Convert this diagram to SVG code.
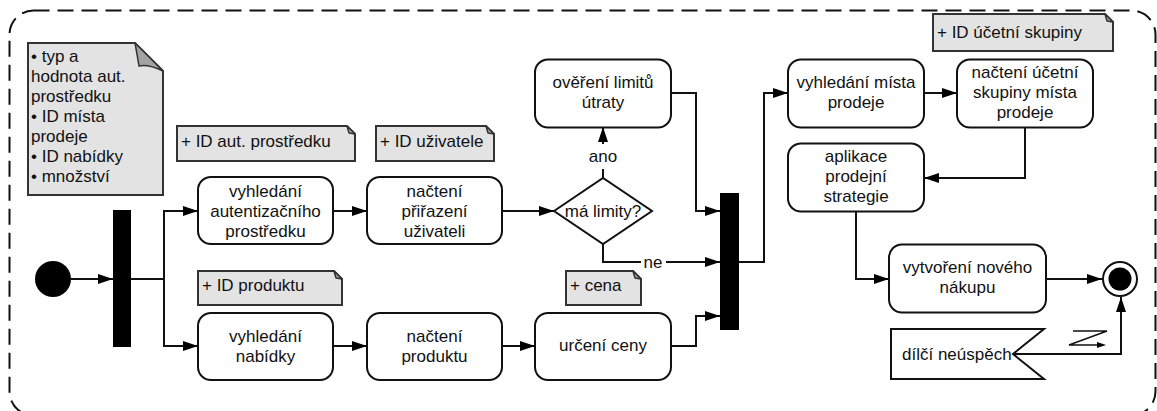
<svg xmlns="http://www.w3.org/2000/svg" width="1157" height="411" viewBox="0 0 1157 411">
  <style>
    text { font-family: "Liberation Sans", Arial, sans-serif; font-size: 17px; fill: #111; }
    .c { text-anchor: middle; }
    .act { fill: #fff; stroke: #111; stroke-width: 2; }
    .note { fill: #e3e3e3; stroke: #333; stroke-width: 2; }
    .fold { fill: #a3a3a3; stroke: #333; stroke-width: 1.5; stroke-linejoin: round; }
    .bar { fill: #000; }
    .wire { fill: none; stroke: #111; stroke-width: 2; }
    .arr { marker-end: url(#ah); }
  </style>
  <defs>
    <marker id="ah" markerUnits="userSpaceOnUse" markerWidth="15" markerHeight="10" refX="15" refY="5" orient="auto">
      <path d="M0,0 L15,5 L0,10 z" fill="#000"/>
    </marker>
  </defs>

  <rect width="1157" height="411" fill="#fff"/>

  <!-- activity frame -->
  <rect id="frame" x="9.5" y="10.5" width="1146" height="405" rx="24" fill="none" stroke="#111" stroke-width="2" stroke-dasharray="16 8"/>

  <!-- notes -->
  <g id="note-inputs">
    <path class="note" d="M28,43 H135 L163,71 V195 H28 Z"/>
    <path class="fold" d="M135,43 L163,71 Q148,64 139,66 Q137,54 135,43 Z"/>
    <text x="31" y="62">• typ a</text>
    <text x="31" y="82">hodnota aut.</text>
    <text x="31" y="102">prostředku</text>
    <text x="31" y="122">• ID místa</text>
    <text x="31" y="142">prodeje</text>
    <text x="31" y="162">• ID nabídky</text>
    <text x="31" y="182">• množství</text>
  </g>
  <g id="note-auth-id">
    <path class="note" d="M177,126 H347 L355,134 V161 H177 Z"/>
    <path class="fold" d="M347,126 L355,134 L349,133 Z"/>
    <text x="181" y="147">+ ID aut. prostředku</text>
  </g>
  <g id="note-user-id">
    <path class="note" d="M376,126 H486 L494,134 V161 H376 Z"/>
    <path class="fold" d="M486,126 L494,134 L488,133 Z"/>
    <text x="380" y="147">+ ID uživatele</text>
  </g>
  <g id="note-product-id">
    <path class="note" d="M198,271 H334 L342,279 V305 H198 Z"/>
    <path class="fold" d="M334,271 L342,279 L336,278 Z"/>
    <text x="202" y="291">+ ID produktu</text>
  </g>
  <g id="note-price">
    <path class="note" d="M566,271 H633 L641,279 V305 H566 Z"/>
    <path class="fold" d="M633,271 L641,279 L635,278 Z"/>
    <text x="570" y="291">+ cena</text>
  </g>
  <g id="note-group-id">
    <path class="note" d="M933,14 H1105 L1113,22 V51 H933 Z"/>
    <path class="fold" d="M1105,14 L1113,22 L1107,21 Z"/>
    <text x="937" y="38">+ ID účetní skupiny</text>
  </g>

  <!-- connectors -->
  <g id="connectors">
    <path class="wire arr" d="M71,279 H113"/>
    <path class="wire" d="M131,279 H164"/>
    <path class="wire arr" d="M164,279 V211 H198"/>
    <path class="wire arr" d="M164,279 V346 H198"/>
    <path class="wire arr" d="M333,211 H367"/>
    <path class="wire arr" d="M502,211 H554"/>
    <path class="wire arr" d="M333,346 H367"/>
    <path class="wire arr" d="M502,346 H535"/>
    <path class="wire" d="M603,178 V169"/>
    <path class="wire arr" d="M603,144 V127"/>
    <path class="wire" d="M603,244 V262 H641"/>
    <path class="wire arr" d="M666,262 H720"/>
    <path class="wire arr" d="M671,93 H696 V211 H720"/>
    <path class="wire arr" d="M671,346 H696 V316 H720"/>
    <path class="wire arr" d="M739,262 H764 V93 H788"/>
    <path class="wire arr" d="M924,93 H957"/>
    <path class="wire arr" d="M1025,127 V178 H924"/>
    <path class="wire arr" d="M856,212 V279 H889"/>
    <path class="wire arr" d="M1046,279 H1102"/>
    <path class="wire arr" d="M1013,354 H1121 V297"/>
    <text class="c" x="603" y="162">ano</text>
    <text class="c" x="653" y="268">ne</text>
  </g>

  <!-- start / forks / end -->
  <g id="start"><circle cx="53" cy="279" r="18" fill="#000"/></g>
  <g id="fork"><rect class="bar" x="113" y="210" width="18" height="137"/></g>
  <g id="join"><rect class="bar" x="720" y="193" width="19" height="137"/></g>
  <g id="end">
    <circle cx="1120" cy="279" r="17" fill="#fff" stroke="#111" stroke-width="2"/>
    <circle cx="1120" cy="279" r="11.5" fill="#000"/>
  </g>

  <!-- actions -->
  <g id="find-auth">
    <rect class="act" x="198" y="177" width="135" height="67" rx="13"/>
    <text class="c" x="265.5" y="196.5">vyhledání</text>
    <text class="c" x="265.5" y="216.5">autentizačního</text>
    <text class="c" x="265.5" y="236.5">prostředku</text>
  </g>
  <g id="load-assignment">
    <rect class="act" x="367" y="177" width="135" height="67" rx="13"/>
    <text class="c" x="434.5" y="196.5">načtení</text>
    <text class="c" x="434.5" y="216.5">přiřazení</text>
    <text class="c" x="434.5" y="236.5">uživateli</text>
  </g>
  <g id="has-limits">
    <path d="M554,211 L603,178 L652,211 L603,244 Z" fill="#fff" stroke="#111" stroke-width="2"/>
    <text class="c" x="603" y="217">má limity?</text>
  </g>
  <g id="check-limits">
    <rect class="act" x="535" y="59.5" width="136" height="68" rx="13"/>
    <text class="c" x="603" y="88">ověření limitů</text>
    <text class="c" x="603" y="108">útraty</text>
  </g>
  <g id="find-offer">
    <rect class="act" x="198" y="313" width="135" height="67" rx="13"/>
    <text class="c" x="265.5" y="341.5">vyhledání</text>
    <text class="c" x="265.5" y="361.5">nabídky</text>
  </g>
  <g id="load-product">
    <rect class="act" x="367" y="313" width="135" height="67" rx="13"/>
    <text class="c" x="434.5" y="341.5">načtení</text>
    <text class="c" x="434.5" y="361.5">produktu</text>
  </g>
  <g id="determine-price">
    <rect class="act" x="535" y="313" width="136" height="67" rx="13"/>
    <text class="c" x="603" y="351">určení ceny</text>
  </g>
  <g id="find-point-of-sale">
    <rect class="act" x="788" y="59.5" width="136" height="68" rx="13"/>
    <text class="c" x="856" y="88">vyhledání místa</text>
    <text class="c" x="856" y="108">prodeje</text>
  </g>
  <g id="load-account-group">
    <rect class="act" x="957" y="59.5" width="136" height="68" rx="13"/>
    <text class="c" x="1025" y="78">načtení účetní</text>
    <text class="c" x="1025" y="98">skupiny místa</text>
    <text class="c" x="1025" y="118">prodeje</text>
  </g>
  <g id="apply-strategy">
    <rect class="act" x="788" y="143.5" width="136" height="68" rx="13"/>
    <text class="c" x="856" y="162">aplikace</text>
    <text class="c" x="856" y="182">prodejní</text>
    <text class="c" x="856" y="202">strategie</text>
  </g>
  <g id="create-purchase">
    <rect class="act" x="889" y="244.5" width="157" height="68" rx="13"/>
    <text class="c" x="967.5" y="273">vytvoření nového</text>
    <text class="c" x="967.5" y="293">nákupu</text>
  </g>

  <!-- partial failure signal -->
  <g id="partial-failure">
    <path d="M891,329 H1044 L1013,354 L1044,379 H891 Z" fill="#fff" stroke="#111" stroke-width="2"/>
    <text x="902" y="360">dílčí neúspěch</text>
    <path d="M1073,331 H1107 L1069,345 H1098" fill="none" stroke="#111" stroke-width="1.5"/>
    <path d="M1097,342 L1106,345 L1097,348 z" fill="#000"/>
  </g>
</svg>
